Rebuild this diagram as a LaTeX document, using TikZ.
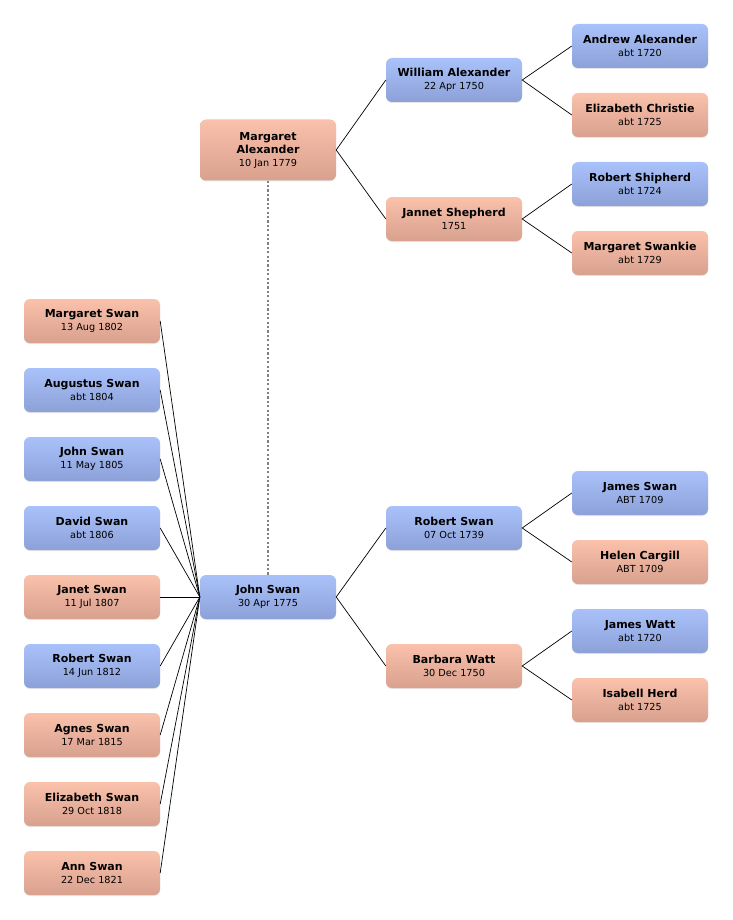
\documentclass[tikz,border=0pt]{standalone}
\usepackage{fontspec}
\setmainfont{DejaVu Sans}
\usetikzlibrary{shadows}
\definecolor{maletop}{HTML}{A9C1FA}
\definecolor{malebot}{HTML}{8DA1D8}
\definecolor{femtop}{HTML}{FAC1AB}
\definecolor{fembot}{HTML}{D8A18E}
\newcommand{\born}[1]{{\fontsize{9.7}{12}\selectfont #1}}
\begin{document}
\begin{tikzpicture}[x=1pt,y=-1pt,
    person/.style={rounded corners=6pt, minimum width=136pt, minimum height=44pt,
      align=center, inner sep=2pt, font=\fontsize{11}{13}\selectfont,
      drop shadow={shadow xshift=0pt, shadow yshift=-1pt, opacity=.2}},
    male/.style={person, top color=maletop, bottom color=malebot},
    female/.style={person, top color=femtop, bottom color=fembot},
    link/.style={line width=.7pt}]
  \useasboundingbox (0,0) rectangle (732,920);
  % mother's side
  \node[female, minimum height=61pt] (margA) at (268,150) {\textbf{Margaret}\\\textbf{Alexander}\\\born{10 Jan 1779}};
  \node[male] (willA) at (454,80) {\textbf{William Alexander}\\\born{22 Apr 1750}};
  \node[female] (janS) at (454,219) {\textbf{Jannet Shepherd}\\\born{1751}};
  \node[male] (andA) at (640,46) {\textbf{Andrew Alexander}\\\born{abt 1720}};
  \node[female] (elizC) at (640,115) {\textbf{Elizabeth Christie}\\\born{abt 1725}};
  \node[male] (robSh) at (640,184) {\textbf{Robert Shipherd}\\\born{abt 1724}};
  \node[female] (margSk) at (640,253) {\textbf{Margaret Swankie}\\\born{abt 1729}};
  % father's side
  \node[male] (johnS) at (268,597) {\textbf{John Swan}\\\born{30 Apr 1775}};
  \node[male] (robS) at (454,528) {\textbf{Robert Swan}\\\born{07 Oct 1739}};
  \node[female] (barW) at (454,666) {\textbf{Barbara Watt}\\\born{30 Dec 1750}};
  \node[male] (jamS) at (640,493) {\textbf{James Swan}\\\born{ABT 1709}};
  \node[female] (helC) at (640,562) {\textbf{Helen Cargill}\\\born{ABT 1709}};
  \node[male] (jamW) at (640,631) {\textbf{James Watt}\\\born{abt 1720}};
  \node[female] (isaH) at (640,700) {\textbf{Isabell Herd}\\\born{abt 1725}};
  % children
  \node[female] (c1) at (92,321) {\textbf{Margaret Swan}\\\born{13 Aug 1802}};
  \node[male] (c2) at (92,390) {\textbf{Augustus Swan}\\\born{abt 1804}};
  \node[male] (c3) at (92,459) {\textbf{John Swan}\\\born{11 May 1805}};
  \node[male] (c4) at (92,528) {\textbf{David Swan}\\\born{abt 1806}};
  \node[female] (c5) at (92,597) {\textbf{Janet Swan}\\\born{11 Jul 1807}};
  \node[male] (c6) at (92,666) {\textbf{Robert Swan}\\\born{14 Jun 1812}};
  \node[female] (c7) at (92,735) {\textbf{Agnes Swan}\\\born{17 Mar 1815}};
  \node[female] (c8) at (92,804) {\textbf{Elizabeth Swan}\\\born{29 Oct 1818}};
  \node[female] (c9) at (92,873) {\textbf{Ann Swan}\\\born{22 Dec 1821}};
  % connectors
  \draw[link] (willA.west) -- (margA.east) -- (janS.west);
  \draw[link] (andA.west) -- (willA.east) -- (elizC.west);
  \draw[link] (robSh.west) -- (janS.east) -- (margSk.west);
  \draw[link] (robS.west) -- (johnS.east) -- (barW.west);
  \draw[link] (jamS.west) -- (robS.east) -- (helC.west);
  \draw[link] (jamW.west) -- (barW.east) -- (isaH.west);
  \foreach \c in {c1,c2,c3,c4,c5,c6,c7,c8,c9}
    \draw[link] (\c.east) -- (johnS.west);
  \draw[gray, line width=1.6pt, dash pattern=on 2.2pt off 2.2pt] (margA.south) -- (johnS.north);
\end{tikzpicture}
\end{document}
